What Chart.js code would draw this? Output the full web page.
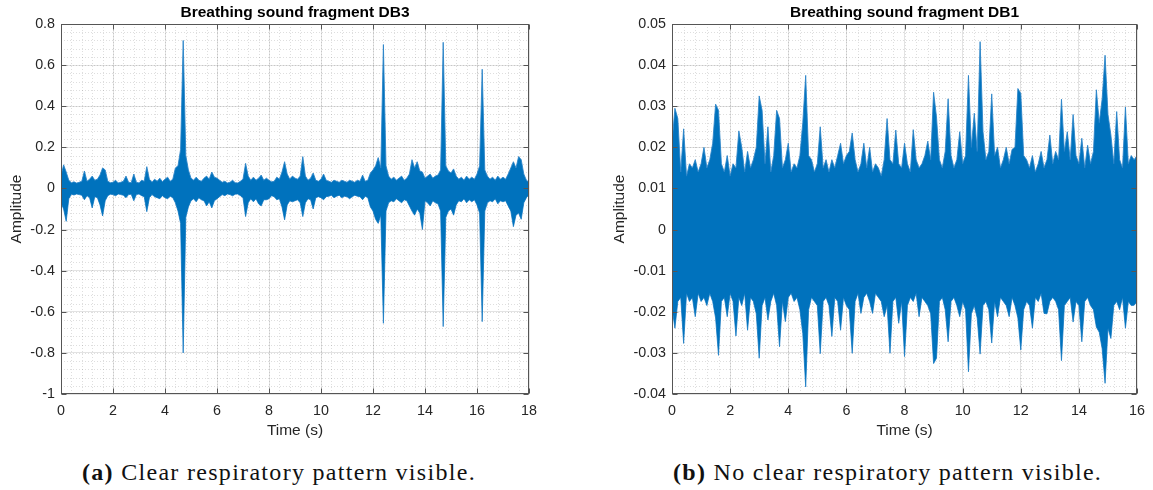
<!DOCTYPE html>
<html>
<head>
<meta charset="utf-8">
<title>Breathing sound fragments</title>
<script src="https://cdn.jsdelivr.net/npm/chart.js@4.4.1/dist/chart.umd.min.js"></script>
<style>
  html, body { margin: 0; padding: 0; background: #fff; width: 1153px; height: 490px; overflow: hidden; }
  .panel { position: absolute; top: 0; height: 445px; }
  #wrapA { left: 0; width: 590px; }
  #wrapB { left: 600px; width: 553px; }
  .caption { position: absolute; top: 459px; font-family: 'Liberation Serif', 'Times New Roman', serif;
             font-size: 24px; letter-spacing: 1.3px; color: #111; white-space: nowrap; }
</style>
</head>
<body>
<div class="panel" id="wrapA"><canvas id="chartA" width="590" height="445"></canvas></div>
<div class="panel" id="wrapB"><canvas id="chartB" width="553" height="445"></canvas></div>
<div class="caption" style="left:82px"><b>(a)</b> Clear respiratory pattern visible.</div>
<div class="caption" style="left:673px"><b>(b)</b> No clear respiratory pattern visible.</div>

<script>
// Envelope of each recording: max / min amplitude in consecutive 0.1 s windows.
const stepA = 0.1;
const upperA = [
  0.06, 0.115, 0.08, 0.04, 0.028, 0.032, 0.026, 0.03, 0.035, 0.085,
  0.035, 0.045, 0.06, 0.04, 0.045, 0.065, 0.1, 0.09, 0.035, 0.028,
  0.03, 0.04, 0.027, 0.03, 0.035, 0.06, 0.03, 0.028, 0.07, 0.03,
  0.027, 0.04, 0.035, 0.106, 0.045, 0.03, 0.045, 0.035, 0.05, 0.033,
  0.045, 0.055, 0.035, 0.045, 0.1, 0.11, 0.19, 0.72, 0.16, 0.09,
  0.05, 0.04, 0.055, 0.04, 0.035, 0.05, 0.06, 0.045, 0.08, 0.055,
  0.05, 0.04, 0.03, 0.035, 0.027, 0.03, 0.04, 0.028, 0.027, 0.035,
  0.045, 0.122, 0.06, 0.04, 0.055, 0.04, 0.05, 0.065, 0.04, 0.05,
  0.04, 0.032, 0.035, 0.055, 0.045, 0.08, 0.13, 0.07, 0.045, 0.06,
  0.05, 0.045, 0.06, 0.155, 0.06, 0.04, 0.05, 0.075, 0.04, 0.035,
  0.045, 0.07, 0.04, 0.035, 0.03, 0.04, 0.035, 0.03, 0.04, 0.035,
  0.03, 0.04, 0.035, 0.03, 0.04, 0.035, 0.065, 0.035, 0.04, 0.075,
  0.09, 0.11, 0.15, 0.1, 0.70, 0.11, 0.06, 0.045, 0.055, 0.04,
  0.05, 0.06, 0.04, 0.05, 0.07, 0.14, 0.1, 0.13, 0.085, 0.08,
  0.05, 0.06, 0.07, 0.05, 0.06, 0.065, 0.09, 0.711, 0.11, 0.085,
  0.075, 0.095, 0.06, 0.045, 0.055, 0.04, 0.06, 0.045, 0.055, 0.045,
  0.07, 0.11, 0.58, 0.09, 0.06, 0.045, 0.055, 0.04, 0.06, 0.045,
  0.055, 0.045, 0.07, 0.1, 0.13, 0.1, 0.155, 0.14, 0.07, 0.04,
  0.03
];
const lowerA = [
  -0.07, -0.1, -0.16, -0.05, -0.028, -0.032, -0.027, -0.03, -0.033, -0.055,
  -0.035, -0.045, -0.095, -0.04, -0.045, -0.08, -0.134, -0.06, -0.035, -0.028,
  -0.03, -0.036, -0.027, -0.03, -0.033, -0.045, -0.03, -0.028, -0.06, -0.03,
  -0.027, -0.035, -0.04, -0.113, -0.045, -0.03, -0.04, -0.045, -0.05, -0.035,
  -0.045, -0.05, -0.038, -0.045, -0.07, -0.11, -0.17, -0.8, -0.14, -0.09,
  -0.06, -0.05, -0.065, -0.045, -0.055, -0.06, -0.085, -0.065, -0.095, -0.06,
  -0.05, -0.04, -0.03, -0.035, -0.027, -0.03, -0.036, -0.028, -0.027, -0.035,
  -0.045, -0.137, -0.07, -0.05, -0.065, -0.05, -0.075, -0.085, -0.055, -0.055,
  -0.05, -0.035, -0.04, -0.055, -0.05, -0.09, -0.153, -0.08, -0.06, -0.065,
  -0.06, -0.055, -0.07, -0.137, -0.07, -0.05, -0.055, -0.1, -0.045, -0.04,
  -0.045, -0.055, -0.04, -0.038, -0.033, -0.045, -0.038, -0.033, -0.045, -0.038,
  -0.04, -0.05, -0.04, -0.033, -0.038, -0.04, -0.055, -0.038, -0.045, -0.09,
  -0.11, -0.15, -0.17, -0.13, -0.656, -0.11, -0.07, -0.06, -0.065, -0.05,
  -0.06, -0.07, -0.055, -0.06, -0.085, -0.11, -0.13, -0.1, -0.12, -0.2,
  -0.06, -0.07, -0.085, -0.06, -0.07, -0.075, -0.11, -0.672, -0.14, -0.11,
  -0.1, -0.13, -0.08, -0.06, -0.065, -0.05, -0.07, -0.055, -0.065, -0.055,
  -0.08, -0.12, -0.648, -0.11, -0.07, -0.06, -0.065, -0.05, -0.075, -0.06,
  -0.065, -0.06, -0.085, -0.11, -0.186, -0.13, -0.12, -0.15, -0.07, -0.045,
  -0.03
];

const stepB = 0.1;
const upperB = [
  0.021, 0.0295, 0.027, 0.014, 0.0245, 0.013, 0.016, 0.015, 0.017, 0.014,
  0.016, 0.02, 0.015, 0.017, 0.021, 0.0305, 0.029, 0.016, 0.014, 0.018,
  0.013, 0.016, 0.015, 0.024, 0.02, 0.014, 0.019, 0.015, 0.017, 0.02,
  0.0325, 0.029, 0.016, 0.025, 0.014, 0.018, 0.029, 0.027, 0.015, 0.017,
  0.021, 0.014, 0.016, 0.015, 0.018, 0.026, 0.0375, 0.018, 0.017, 0.014,
  0.016, 0.025, 0.015, 0.017, 0.014, 0.017, 0.015, 0.018, 0.021, 0.016,
  0.018, 0.019, 0.0235, 0.017, 0.014, 0.016, 0.021, 0.015, 0.02, 0.014,
  0.016, 0.015, 0.013, 0.017, 0.027, 0.017, 0.016, 0.0242, 0.016, 0.015,
  0.021, 0.016, 0.014, 0.0243, 0.017, 0.015, 0.016, 0.018, 0.0215, 0.017,
  0.0334, 0.0274, 0.017, 0.015, 0.019, 0.0318, 0.018, 0.015, 0.017, 0.0238,
  0.016, 0.018, 0.0375, 0.02, 0.0283, 0.019, 0.0457, 0.0238, 0.017, 0.019,
  0.033, 0.018, 0.02, 0.015, 0.017, 0.02, 0.016, 0.0195, 0.02, 0.0343,
  0.0331, 0.018, 0.017, 0.015, 0.018, 0.014, 0.016, 0.019, 0.015, 0.017,
  0.023, 0.016, 0.019, 0.017, 0.0317, 0.019, 0.0238, 0.017, 0.028, 0.018,
  0.016, 0.0222, 0.015, 0.0205, 0.016, 0.019, 0.034, 0.026, 0.0318, 0.0424,
  0.028, 0.023, 0.016, 0.0287, 0.017, 0.015, 0.0298, 0.016, 0.018, 0.017,
  0.018
];
const lowerB = [
  -0.019, -0.024, -0.0175, -0.0165, -0.0277, -0.0155, -0.0175, -0.0165, -0.0212, -0.0155,
  -0.0175, -0.0165, -0.0185, -0.0155, -0.0175, -0.0215, -0.0306, -0.0175, -0.0165, -0.0212,
  -0.0155, -0.0175, -0.0259, -0.0165, -0.0185, -0.0155, -0.0245, -0.0165, -0.0175, -0.0205,
  -0.0313, -0.0185, -0.0165, -0.022, -0.0175, -0.0155, -0.0185, -0.0285, -0.0175, -0.0224,
  -0.0165, -0.0155, -0.0175, -0.0165, -0.0195, -0.0253, -0.0383, -0.0195, -0.0165, -0.0175,
  -0.0185, -0.0302, -0.0175, -0.0165, -0.0185, -0.026, -0.0165, -0.0175, -0.0245, -0.0165,
  -0.0185, -0.0195, -0.0301, -0.0175, -0.0155, -0.0204, -0.0165, -0.0155, -0.0175, -0.0204,
  -0.0155, -0.0165, -0.0175, -0.0212, -0.0185, -0.0301, -0.0175, -0.0165, -0.0228, -0.0175,
  -0.0309, -0.0185, -0.0165, -0.0175, -0.0155, -0.0212, -0.0165, -0.0175, -0.0185, -0.0205,
  -0.0326, -0.0313, -0.0175, -0.0165, -0.0195, -0.0273, -0.0175, -0.0165, -0.0185, -0.0212,
  -0.0175, -0.0195, -0.0346, -0.0205, -0.0185, -0.0215, -0.0303, -0.0185, -0.0175, -0.0195,
  -0.0276, -0.0175, -0.0212, -0.0165, -0.0175, -0.0185, -0.0212, -0.0165, -0.0185, -0.0215,
  -0.0293, -0.0195, -0.0175, -0.0185, -0.024, -0.0165, -0.0175, -0.0155, -0.0204, -0.0205,
  -0.0175, -0.0165, -0.0175, -0.0195, -0.0319, -0.0185, -0.0175, -0.0165, -0.0225, -0.0175,
  -0.0185, -0.0273, -0.0175, -0.0165, -0.0185, -0.0195, -0.0237, -0.025, -0.029, -0.0374,
  -0.024, -0.0265, -0.0185, -0.0175, -0.0195, -0.0165, -0.024, -0.0175, -0.0185, -0.0184,
  -0.0175
];

// Axis ticks (major) and minor grid spacing
const xTicksA = [0, 2, 4, 6, 8, 10, 12, 14, 16, 18];
const yTicksA = [-1, -0.8, -0.6, -0.4, -0.2, 0, 0.2, 0.4, 0.6, 0.8];
const xTicksB = [0, 2, 4, 6, 8, 10, 12, 14, 16];
const yTicksB = [-0.04, -0.03, -0.02, -0.01, 0, 0.01, 0.02, 0.03, 0.04, 0.05];

const FONT = "'Liberation Sans', Arial, Helvetica, sans-serif";
const WAVE = 'rgb(0,114,189)';
const WAVE_EDGE = 'rgba(40,130,200,0.85)';
const TEXT = '#262626';
const AXIS = '#555';
const GRID_MAJOR = 'rgba(0,0,0,0.11)';
const GRID_MINOR = 'rgba(0,0,0,0.13)';

const fmt = v => String(Number(v.toFixed(3)));
const samples = (vals, step) => vals.map((v, i) => ({ x: Number((i * step).toFixed(2)), y: v }));

// Minor dotted grid below the data, MATLAB-style box with inward ticks on top.
const framePlugin = {
  id: 'frame',
  beforeDatasetsDraw(chart, args, opts) {
    const { ctx, chartArea: a, scales: { x, y } } = chart;
    ctx.save();
    ctx.strokeStyle = GRID_MINOR;
    ctx.lineWidth = 1;
    ctx.setLineDash([1, 2]);
    const nx = Math.round((x.max - x.min) / opts.xMinor);
    for (let k = 1; k < nx; k++) {
      const px = Math.round(x.getPixelForValue(x.min + k * opts.xMinor)) + 0.5;
      ctx.beginPath(); ctx.moveTo(px, a.top); ctx.lineTo(px, a.bottom); ctx.stroke();
    }
    const ny = Math.round((y.max - y.min) / opts.yMinor);
    for (let k = 1; k < ny; k++) {
      const py = Math.round(y.getPixelForValue(y.min + k * opts.yMinor)) + 0.5;
      ctx.beginPath(); ctx.moveTo(a.left, py); ctx.lineTo(a.right, py); ctx.stroke();
    }
    ctx.restore();
  },
  afterDraw(chart) {
    const { ctx, chartArea: a, scales: { x, y } } = chart;
    const L = Math.round(a.left) + 0.5, R = Math.round(a.right) - 0.5;
    const T = Math.round(a.top) + 0.5, B = Math.round(a.bottom) - 0.5;
    const len = 5;
    ctx.save();
    ctx.strokeStyle = AXIS;
    ctx.lineWidth = 1;
    ctx.strokeRect(L, T, R - L, B - T);
    ctx.beginPath();
    x.ticks.forEach(t => {
      const px = Math.round(x.getPixelForValue(t.value)) + 0.5;
      ctx.moveTo(px, B); ctx.lineTo(px, B - len);
      ctx.moveTo(px, T); ctx.lineTo(px, T + len);
    });
    y.ticks.forEach(t => {
      const py = Math.round(y.getPixelForValue(t.value)) + 0.5;
      ctx.moveTo(L, py); ctx.lineTo(L + len, py);
      ctx.moveTo(R, py); ctx.lineTo(R - len, py);
    });
    ctx.stroke();
    ctx.restore();
  }
};

function buildChart(id, p) {
  return new Chart(document.getElementById(id), {
    type: 'line',
    data: {
      datasets: [
        { data: samples(p.upper, p.step), borderColor: WAVE_EDGE, backgroundColor: WAVE,
          borderWidth: 1, pointRadius: 0, tension: 0, fill: '+1' },
        { data: samples(p.lower, p.step), borderColor: WAVE_EDGE, backgroundColor: WAVE,
          borderWidth: 1, pointRadius: 0, tension: 0, fill: false }
      ]
    },
    options: {
      responsive: false,
      animation: false,
      events: [],
      layout: { padding: { left: 0, right: p.padRight, top: 0, bottom: 0 } },
      plugins: {
        legend: { display: false },
        tooltip: { enabled: false },
        title: {
          display: true, text: p.title, fullSize: false, color: '#000',
          font: { family: FONT, size: 15.5, weight: 'bold' },
          padding: { top: 3, bottom: 2.4 }
        },
        frame: { xMinor: p.xMinor, yMinor: p.yMinor }
      },
      scales: {
        x: {
          type: 'linear',
          min: p.xTicks[0], max: p.xTicks[p.xTicks.length - 1],
          afterBuildTicks: s => { s.ticks = p.xTicks.map(v => ({ value: v })); },
          afterFit: s => { s.height = 51; },
          grid: { color: GRID_MAJOR, drawTicks: false },
          border: { display: false },
          ticks: { color: TEXT, font: { family: FONT, size: 14.3 }, padding: 8,
                   maxRotation: 0, autoSkip: false, callback: v => fmt(v) },
          title: { display: true, text: 'Time (s)', color: TEXT,
                   font: { family: FONT, size: 15.5 }, padding: { top: 0, bottom: 5 } }
        },
        y: {
          type: 'linear',
          min: p.yTicks[0], max: p.yTicks[p.yTicks.length - 1],
          afterBuildTicks: s => { s.ticks = p.yTicks.map(v => ({ value: v })); },
          afterFit: s => { s.width = p.axisWidth; },
          grid: { color: GRID_MAJOR, drawTicks: false },
          border: { display: false },
          ticks: { color: TEXT, font: { family: FONT, size: 14.3 }, padding: 6,
                   autoSkip: false, callback: v => fmt(v) },
          title: { display: true, text: 'Amplitude', color: TEXT,
                   font: { family: FONT, size: 15.5 }, padding: { top: p.yTitlePad, bottom: 0 } }
        }
      }
    },
    plugins: [framePlugin]
  });
}

buildChart('chartA', {
  title: 'Breathing sound fragment DB3',
  upper: upperA, lower: lowerA, step: stepA,
  xTicks: xTicksA, yTicks: yTicksA, xMinor: 0.4, yMinor: 0.04,
  axisWidth: 61, padRight: 61, yTitlePad: 7
});
buildChart('chartB', {
  title: 'Breathing sound fragment DB1',
  upper: upperB, lower: lowerB, step: stepB,
  xTicks: xTicksB, yTicks: yTicksB, xMinor: 0.4, yMinor: 0.002,
  axisWidth: 72, padRight: 11, yTitlePad: 10
});
</script>
</body>
</html>
